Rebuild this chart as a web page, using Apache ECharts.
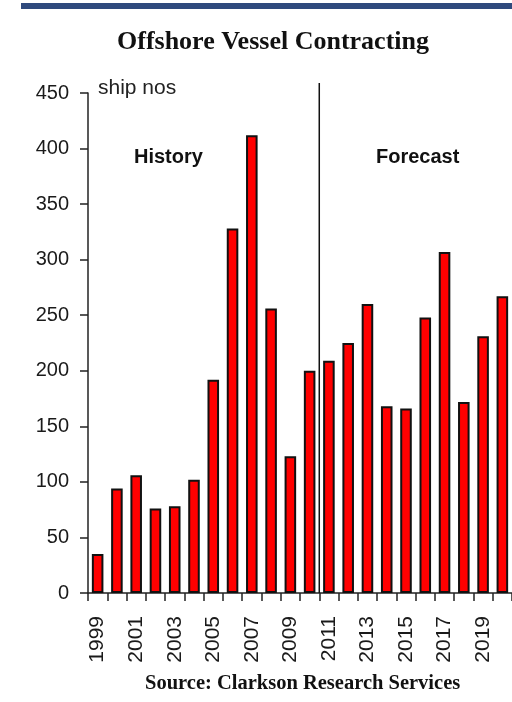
<!DOCTYPE html>
<html>
<head>
<meta charset="utf-8">
<style>
  html, body { margin: 0; padding: 0; background: #fff; }
  #chart { width: 512px; height: 702px; }
</style>
<script src="https://cdn.jsdelivr.net/npm/echarts@6/dist/echarts.min.js"></script>
</head>
<body>
<div id="chart"></div>
<script>
// Offshore vessel contracts per year (ship numbers); 2011 onwards is forecast
const years = ['1999','2000','2001','2002','2003','2004','2005','2006','2007','2008','2009',
               '2010','2011','2012','2013','2014','2015','2016','2017','2018','2019','2020'];
const contracts = [35, 94, 106, 76, 78, 102, 192, 328, 412, 256, 123,
                   200, 209, 225, 260, 168, 166, 248, 307, 172, 231, 267];
const yTicks = [0, 50, 100, 150, 200, 250, 300, 350, 400, 450];
const firstForecastYear = '2011';

const chart = echarts.init(document.getElementById('chart'));
const sans = '"Liberation Sans", Arial, sans-serif';
const serif = '"Liberation Serif", "Times New Roman", serif';

function decorations(extra) {
  return [
    { type: 'rect', left: 21, top: 3, shape: { width: 491, height: 6 }, style: { fill: '#2f4a7d' }, z: 10 },
    { type: 'text', left: 117, top: 29,
      style: { text: 'Offshore Vessel Contracting', font: 'bold 26px ' + serif, fill: '#111' } },
    { type: 'text', left: 98, top: 78,
      style: { text: 'ship nos', font: '21px ' + sans, fill: '#222' } },
    { type: 'text', left: 134, top: 147,
      style: { text: 'History', font: 'bold 20px ' + sans, fill: '#111' } },
    { type: 'text', left: 376, top: 147,
      style: { text: 'Forecast', font: 'bold 20px ' + sans, fill: '#111' } },
    { type: 'text', left: 145, top: 673,
      style: { text: 'Source: Clarkson Research Services', font: 'bold 20.5px ' + serif, fill: '#111' } }
  ].concat(extra || []);
}

chart.setOption({
  animation: false,
  backgroundColor: '#fff',
  grid: { left: 88, right: 0, top: 93, bottom: 109, containLabel: false },
  xAxis: {
    type: 'category',
    data: years,
    boundaryGap: true,
    axisLine: { lineStyle: { color: '#222', width: 1.5 } },
    axisTick: { show: true, interval: 0, length: 8, lineStyle: { color: '#222', width: 1.5 } },
    axisLabel: {
      interval: 1, rotate: 90, margin: 23,
      fontFamily: sans, fontSize: 21, color: '#1a1a1a'
    },
    splitLine: { show: false }
  },
  yAxis: {
    type: 'value',
    min: yTicks[0],
    max: yTicks[yTicks.length - 1],
    interval: yTicks[1] - yTicks[0],
    axisLine: { show: true, lineStyle: { color: '#222', width: 1.5 } },
    axisTick: { show: true, length: 8, lineStyle: { color: '#222', width: 1.5 } },
    axisLabel: { margin: 19, fontFamily: sans, fontSize: 20, color: '#1a1a1a' },
    splitLine: { show: false }
  },
  series: [{
    type: 'bar',
    data: contracts,
    barWidth: '60%',
    itemStyle: { color: '#ff0000', borderColor: '#111', borderWidth: 2 }
  }],
  graphic: decorations()
});

// Divider between history and forecast, on the category boundary before the first forecast year
const idx = years.indexOf(firstForecastYear);
const xPrev = chart.convertToPixel({ xAxisIndex: 0 }, idx - 1);
const xNext = chart.convertToPixel({ xAxisIndex: 0 }, idx);
const xDiv = (xPrev + xNext) / 2;
const yBase = chart.convertToPixel({ yAxisIndex: 0 }, 0);
const yTop = chart.convertToPixel({ yAxisIndex: 0 }, yTicks[yTicks.length - 1]) - 10;
chart.setOption({
  graphic: decorations([
    { type: 'line', shape: { x1: xDiv, y1: yTop, x2: xDiv, y2: yBase },
      style: { stroke: '#111', lineWidth: 1.5 }, z: 5 }
  ])
}, { replaceMerge: ['graphic'] });
</script>
</body>
</html>
